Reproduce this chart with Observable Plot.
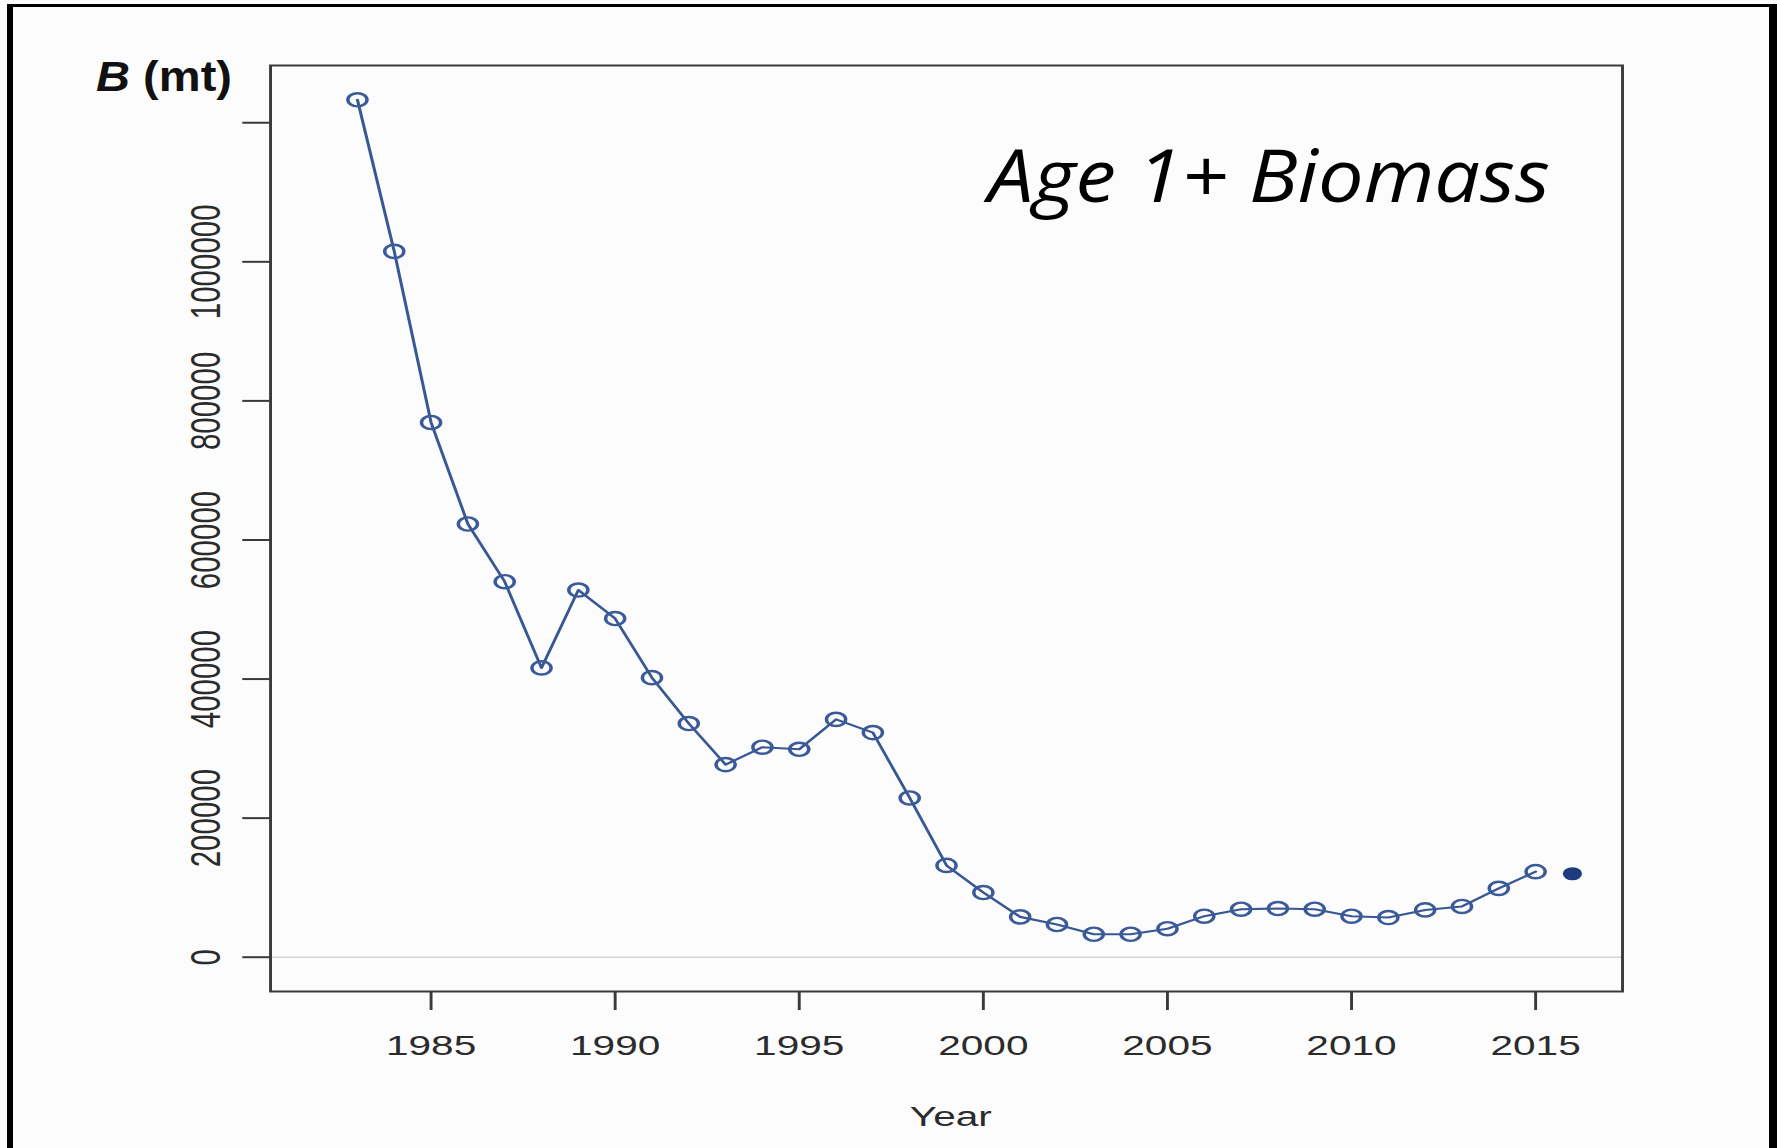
<!DOCTYPE html>
<html>
<head>
<meta charset="utf-8">
<script src="https://cdn.jsdelivr.net/npm/d3@7"></script>
<script src="https://cdn.jsdelivr.net/npm/@observablehq/plot@0.6"></script>
<style>
  html, body { margin: 0; padding: 0; background: #fcfcfc; overflow: hidden; }
  #wrap { position: relative; width: 1777px; height: 1148px; }
  #frame { position: absolute; left: 7px; top: 4px; width: 1756px; height: 1200px;
           border-left: 6px solid #000; border-top: 3px solid #000; border-right: 8px solid #000; box-sizing: content-box; }
  #title { position: absolute; left: 988px; top: 137px; font-family: "Open Sans", sans-serif; font-style: italic;
           font-size: 73px; line-height: 1; color: #000; white-space: nowrap; transform-origin: 0 0; }
  #ylab { position: absolute; left: 96px; top: 56px; font-family: "Liberation Sans", Arial, sans-serif; font-weight: bold;
          font-size: 42px; line-height: 1; color: #111; white-space: nowrap; transform-origin: 0 0; }
</style>
</head>
<body>
<div id="wrap">
  <div id="chart"></div>
  <div id="frame"></div>
  <div id="ylab"><i>B</i> (mt)</div>
  <div id="title">Age 1+ Biomass</div>
</div>
<script>
// ---- data ----
const years = [1983, 1984, 1985, 1986, 1987, 1988, 1989, 1990, 1991, 1992, 1993, 1994, 1995, 1996, 1997,
               1998, 1999, 2000, 2001, 2002, 2003, 2004, 2005, 2006, 2007, 2008, 2009, 2010, 2011, 2012,
               2013, 2014, 2015];
const biomass = [1233000, 1015000, 769000, 623000, 540000, 416000, 528000, 487000, 402000, 336000, 277000,
                 302000, 299000, 342000, 323000, 229000, 132000, 93000, 58000, 47000, 33000, 33000, 41000,
                 59000, 69000, 70000, 69000, 59000, 57000, 68000, 73000, 99000, 123000];
const projYears = [2016];
const projBiomass = [120000];

const xTicks = [1985, 1990, 1995, 2000, 2005, 2010, 2015];
const yTicks = [0, 200000, 400000, 600000, 800000, 1000000, 1200000];
const yTickLabels = ["0", "200000", "400000", "600000", "800000", "1000000", ""];

const series = years.map((y, i) => ({year: y, value: biomass[i]}));
const projected = projYears.map((y, i) => ({year: y, value: projBiomass[i]}));
const yLabelMap = new Map(yTicks.map((t, i) => [t, yTickLabels[i]]));

// The reference figure is horizontally stretched; draw at a narrower width and stretch the SVG.
const W0 = 1225, H = 1148;
const ink = "#2b2b2b";

const chart = Plot.plot({
  width: W0,
  height: H,
  marginLeft: 186,
  marginRight: 107,
  marginTop: 65,
  marginBottom: 157,
  x: {domain: [1980.64, 2017.36]},
  y: {domain: [-49320, 1282320]},
  style: {background: "transparent", fontFamily: "'Liberation Sans', Arial, Helvetica, sans-serif", color: ink},
  marks: [
    Plot.ruleY([0], {stroke: "#d4d4d4", strokeWidth: 1.5}),
    Plot.frame({stroke: "#3a3a3a", strokeWidth: 2}),
    Plot.axisX(xTicks, {tickSize: 19, tickPadding: 25, fontSize: 28, strokeWidth: 2, stroke: "#3a3a3a", fill: ink,
                        tickFormat: d => String(d), label: null}),
    Plot.axisY(yTicks, {tickSize: 19, tickPadding: 16, fontSize: 29.5, strokeWidth: 2, stroke: "#3a3a3a", fill: ink,
                        tickRotate: -90, tickFormat: d => yLabelMap.get(d), label: null}),
    Plot.line(series, {x: "year", y: "value", stroke: "#385894", strokeWidth: 2.1}),
    Plot.dot(series, {x: "year", y: "value", r: 6.6, stroke: "#3b5a9a", strokeWidth: 2.4, fill: "none"}),
    Plot.dot(projected, {x: "year", y: "value", r: 6.6, fill: "#1d3c80", stroke: "none"}),
    Plot.text(["Year"], {text: d => d, frameAnchor: "bottom", dx: 3, dy: 126, lineAnchor: "middle", fontSize: 28, fill: ink})
  ]
});

chart.setAttribute("preserveAspectRatio", "none");
chart.setAttribute("width", 1777);
chart.setAttribute("height", H);
chart.style.width = "1777px";
chart.style.height = H + "px";
chart.style.maxWidth = "none";
chart.style.display = "block";
document.getElementById("chart").appendChild(chart);

// fit annotation widths to the reference
function fitWidth(id, target) {
  const el = document.getElementById(id);
  const w = el.getBoundingClientRect().width;
  el.style.transform = `scaleX(${target / w})`;
}
fitWidth("title", 562);
fitWidth("ylab", 136);
</script>
</body>
</html>
